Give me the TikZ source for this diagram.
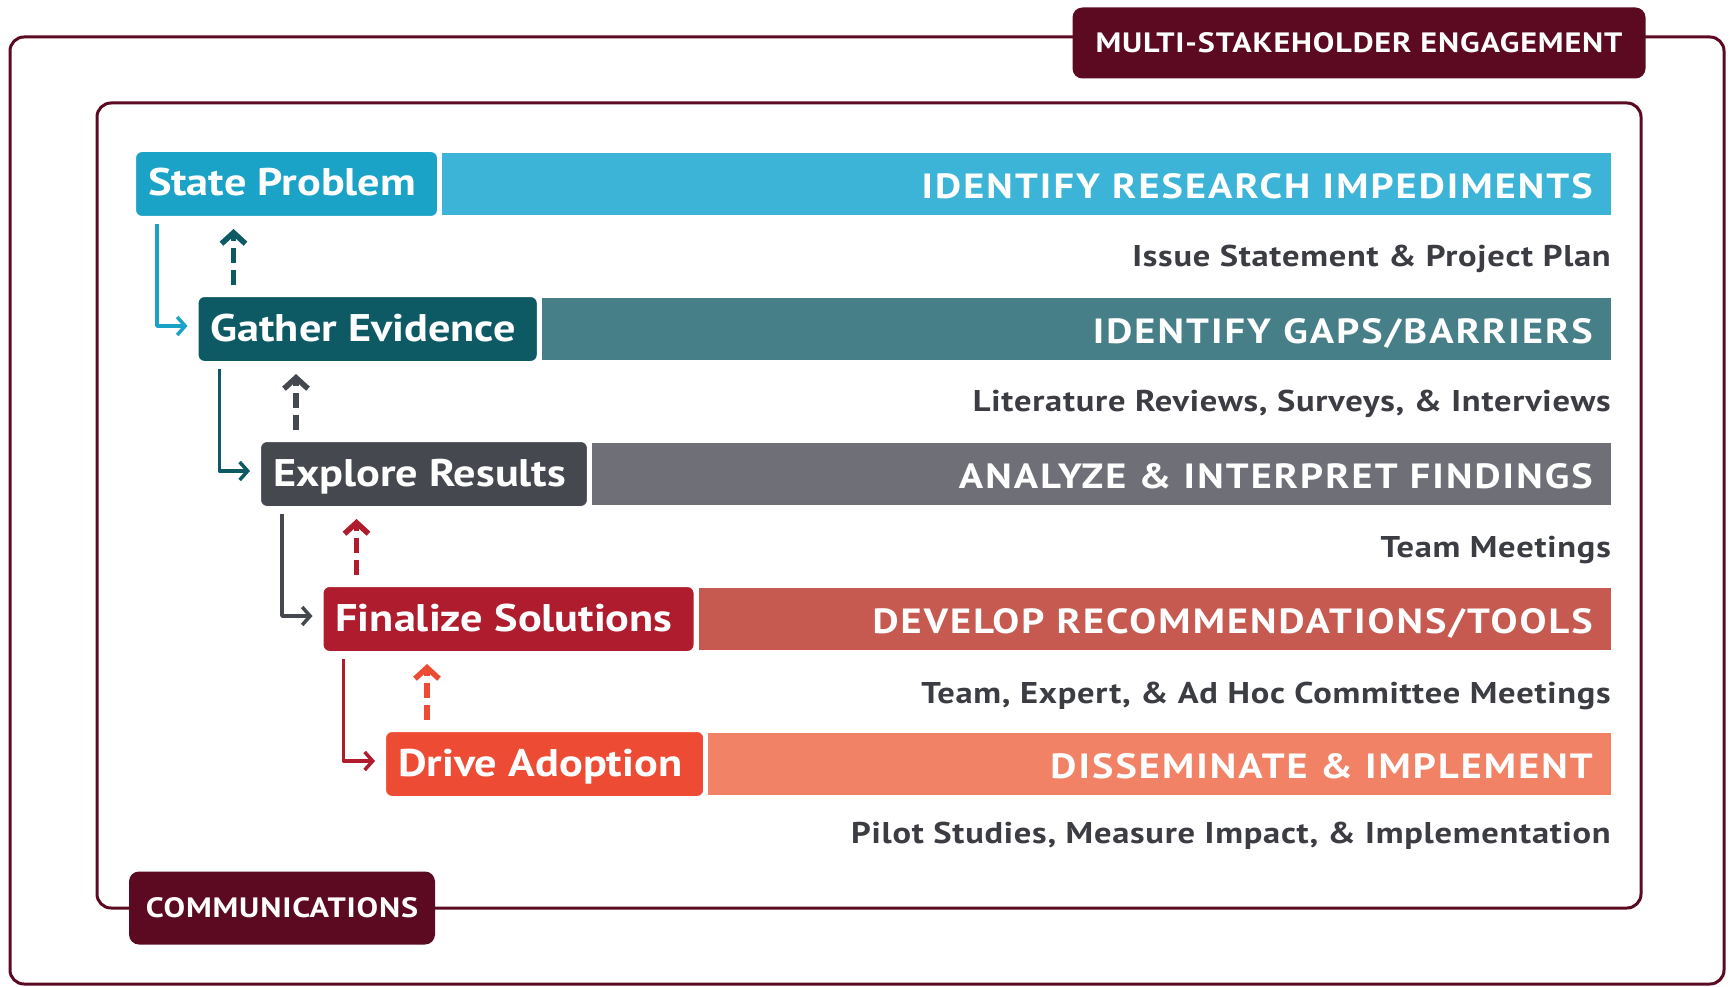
\documentclass[tikz,border=0pt]{standalone}
\usepackage{fontspec}
\setmainfont{PT Sans}[FakeStretch=1.15]
\newfontfamily\capsfont{PT Sans}[FakeStretch=1.15, LetterSpace=6]
\newfontfamily\tagfont{PT Sans}[FakeStretch=1.15, LetterSpace=3]
\newfontfamily\notefont{PT Sans}[FakeStretch=1.15, LetterSpace=2.5]
\usetikzlibrary{positioning,arrows.meta}

\definecolor{wine}{HTML}{5B0A22}
\definecolor{ink}{HTML}{3C3D43}
\definecolor{cyanbox}{HTML}{1BA2C7}
\definecolor{cyanbar}{HTML}{3CB4D7}
\definecolor{tealbox}{HTML}{0E5A64}
\definecolor{tealbar}{HTML}{467F87}
\definecolor{greybox}{HTML}{46484F}
\definecolor{greybar}{HTML}{6F7077}
\definecolor{redbox}{HTML}{AE1C2D}
\definecolor{redbar}{HTML}{C65A50}
\definecolor{orangebox}{HTML}{EE4B34}
\definecolor{orangebar}{HTML}{F18266}

\begin{document}
\begin{tikzpicture}[x=1pt, y=-1pt, line join=round,
    stepbox/.style={rounded corners=7pt, draw=white, line width=2pt, text=white,
      font=\bfseries\fontsize{38.5}{42}\selectfont, minimum height=66pt,
      text height=27pt, text depth=3pt, inner xsep=13pt,
      execute at end node=\kern9pt, anchor=north west},
    bartext/.style={text=white, font=\capsfont\bfseries\fontsize{35}{40}\selectfont,
      text height=24.5pt, text depth=0pt, inner sep=0pt, anchor=east},
    subtext/.style={text=ink, font=\notefont\bfseries\fontsize{30}{34}\selectfont,
      text height=21pt, text depth=0pt, inner sep=0pt, anchor=east},
    tag/.style={fill=wine, rounded corners=10pt, text=white, text height=19.6pt, text depth=0pt,
      font=\tagfont\bfseries\fontsize{28}{32}\selectfont},
    frame/.style={draw=wine, line width=3pt, rounded corners=14pt},
    flow/.style={line width=3.5pt, -{Straight Barb[length=8pt,width=18pt]}, shorten >=9pt},
    back/.style={line width=5.5pt, dash pattern=on 15pt off 7pt,
      -{Straight Barb[length=11pt,width=24pt]}, shorten >=11pt, shorten <=10pt}]

  \useasboundingbox (0,0) rectangle (1735,987);
  \draw[frame] (10,37) rectangle (1724,984);
  \draw[frame] (97,103) rectangle (1641,908);
  \node[tag, minimum width=573pt, minimum height=71pt] (multi) at (1359,43) {MULTI-STAKEHOLDER ENGAGEMENT};
  \node[tag, minimum width=306pt, minimum height=73pt] (comms) at (282,908) {COMMUNICATIONS};

  \coordinate (edge) at (1611,0);
  \coordinate (textedge) at (1593,0);

  \node[stepbox, fill=cyanbox] (state) at (134,150) {State Problem};
  \node[stepbox, fill=tealbox, below right=77pt and 62.5pt of state.south west] (gather) {Gather Evidence};
  \node[stepbox, fill=greybox, below right=77pt and 62.5pt of gather.south west] (explore) {Explore Results};
  \node[stepbox, fill=redbox, below right=77pt and 62.5pt of explore.south west] (finalize) {Finalize Solutions};
  \node[stepbox, fill=orangebox, below right=77pt and 62.5pt of finalize.south west] (drive) {Drive Adoption};

  \fill[cyanbar] ([xshift=3pt,yshift=-3pt]state.north east) rectangle ([yshift=3pt]state.south -| edge);
  \fill[tealbar] ([xshift=3pt,yshift=-3pt]gather.north east) rectangle ([yshift=3pt]gather.south -| edge);
  \fill[greybar] ([xshift=3pt,yshift=-3pt]explore.north east) rectangle ([yshift=3pt]explore.south -| edge);
  \fill[redbar] ([xshift=3pt,yshift=-3pt]finalize.north east) rectangle ([yshift=3pt]finalize.south -| edge);
  \fill[orangebar] ([xshift=3pt,yshift=-3pt]drive.north east) rectangle ([yshift=3pt]drive.south -| edge);

  \node[bartext] (impediments) at ([yshift=-2pt]state -| textedge) {IDENTIFY RESEARCH IMPEDIMENTS};
  \node[bartext] (gaps) at ([yshift=-2pt]gather -| textedge) {IDENTIFY GAPS/BARRIERS};
  \node[bartext] (findings) at ([yshift=-2pt]explore -| textedge) {ANALYZE \& INTERPRET FINDINGS};
  \node[bartext] (tools) at ([yshift=-2pt]finalize -| textedge) {DEVELOP RECOMMENDATIONS/TOOLS};
  \node[bartext] (implement) at ([yshift=-2pt]drive -| textedge) {DISSEMINATE \& IMPLEMENT};

  \node[subtext] (plan) at ([yshift=-38pt]state.south -| edge) {Issue Statement \& Project Plan};
  \node[subtext] (surveys) at ([yshift=-38pt]gather.south -| edge) {Literature Reviews, Surveys, \& Interviews};
  \node[subtext] (meetings) at ([yshift=-39pt]explore.south -| edge) {Team Meetings};
  \node[subtext] (committee) at ([yshift=-40pt]finalize.south -| edge) {Team, Expert, \& Ad Hoc Committee Meetings};
  \node[subtext] (pilot) at ([yshift=-35pt]drive.south -| edge) {Pilot Studies, Measure Impact, \& Implementation};

  \draw[flow, cyanbox] ([xshift=23pt,yshift=-6pt]state.south west) |- ([yshift=3pt]gather.west);
  \draw[flow, tealbox] ([xshift=23pt,yshift=-6pt]gather.south west) |- ([yshift=3pt]explore.west);
  \draw[flow, greybox] ([xshift=23pt,yshift=-6pt]explore.south west) |- ([yshift=3pt]finalize.west);
  \draw[flow, redbox] ([xshift=22pt,yshift=-6pt]finalize.south west) |- ([yshift=3pt]drive.west);

  \draw[back, tealbox] ([xshift=37pt]gather.north west) -- ([xshift=37pt]gather.north west |- state.south);
  \draw[back, greybox] ([xshift=37pt]explore.north west) -- ([xshift=37pt]explore.north west |- gather.south);
  \draw[back, redbox] ([xshift=35pt]finalize.north west) -- ([xshift=35pt]finalize.north west |- explore.south);
  \draw[back, orangebox] ([xshift=43pt]drive.north west) -- ([xshift=43pt]drive.north west |- finalize.south);
\end{tikzpicture}
\end{document}
